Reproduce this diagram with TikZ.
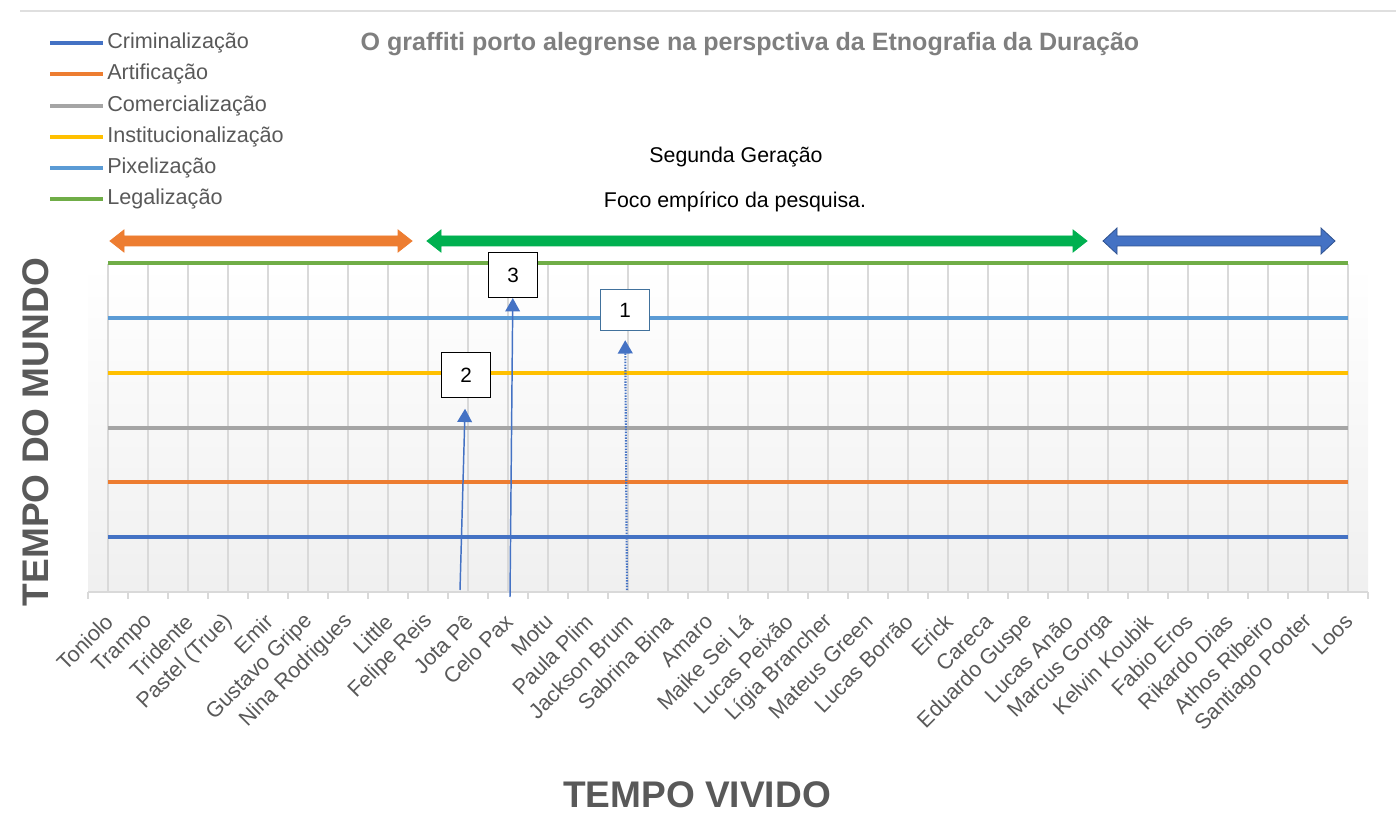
\documentclass[tikz,border=0pt]{standalone}
\usepackage{fontspec}
\setmainfont{Liberation Sans}
\usetikzlibrary{arrows.meta}

\definecolor{crim}{HTML}{4472C4}
\definecolor{arti}{HTML}{ED7D31}
\definecolor{come}{HTML}{A5A5A5}
\definecolor{inst}{HTML}{FFC000}
\definecolor{pixe}{HTML}{5B9BD5}
\definecolor{lega}{HTML}{70AD47}
\definecolor{foco}{HTML}{00B050}
\definecolor{darkblue}{HTML}{2F528F}
\definecolor{txtgray}{HTML}{595959}
\definecolor{titgray}{HTML}{7F7F7F}
\definecolor{gridgray}{HTML}{D9D9D9}
\definecolor{boxline}{HTML}{41719C}

% fill, outline, x1, x2, y, head half height
\newcommand{\spanarrow}[6]{%
  \filldraw[fill=#1, draw=#2, line width=0.6pt] (#3,#5) -- (#3+14,#5-#6) -- (#3+14,#5-5)
    -- (#4-14,#5-5) -- (#4-14,#5-#6) -- (#4,#5) -- (#4-14,#5+#6) -- (#4-14,#5+5)
    -- (#3+14,#5+5) -- (#3+14,#5+#6) -- cycle;}

\begin{document}
\begin{tikzpicture}[x=0.75pt, y=-0.75pt,
  serie/.style={line width=3pt},
  legtext/.style={anchor=west, text=txtgray, font=\fontsize{16.2}{19}\selectfont, inner sep=0pt},
  catlabel/.style={anchor=east, rotate=45, text=txtgray, font=\fontsize{16.2}{19}\selectfont, inner sep=1pt},
  numbox/.style={draw, line width=1.1pt, minimum width=36.5pt, minimum height=33.5pt, fill=white, font=\fontsize{15.5}{18}\selectfont},
  pointer/.style={draw=crim, line width=1.1pt, -{Triangle[width=11pt, length=10pt]}},
  axistitle/.style={text=txtgray, font=\fontsize{27.8}{31}\bfseries\selectfont}]

  \useasboundingbox (0,0) rectangle (1396,830);
  \draw[gray!25, line width=0.8pt] (20,11) -- (1396,11);

  % plot area
  \shade[top color=white, bottom color=gray!12] (88,264) rectangle (1368,592);
  \foreach \i in {0,...,31}
    \draw[gridgray, line width=0.8pt] (108+40*\i,264) -- (108+40*\i,592);
  \foreach \i in {0,...,32}
    \draw[gridgray, line width=0.8pt] (88+40*\i,592) -- (88+40*\i,599);
  \draw[gridgray, line width=0.8pt] (88,592) -- (1368,592);

  \foreach \c [count=\k] in {crim,arti,come,inst,pixe,lega}
    \draw[serie, \c] (108,592-54.8*\k) -- (1348,592-54.8*\k);

  % legend
  \foreach \c/\t [count=\k] in {crim/Criminalização, arti/Artificação, come/Comercialização,
      inst/Institucionalização, pixe/Pixelização, lega/Legalização}
  {
    \draw[serie, \c] (50,12+31.2*\k) -- (103,12+31.2*\k);
    \node[legtext] (leg\k) at (107,12+31.2*\k) {\t};
  }

  \node[text=titgray, font=\fontsize{18.8}{22}\bfseries\selectfont] (title) at (750,44)
    {O graffiti porto alegrense na perspctiva da Etnografia da Duração};
  \node[font=\fontsize{16}{19}\selectfont] (geracao) at (736,157) {Segunda Geração};
  \node[font=\fontsize{16}{19}\selectfont] (foco) at (735,202) {Foco empírico da pesquisa.};

  \spanarrow{arti}{arti}{110}{412}{241}{11}
  \spanarrow{foco}{foco}{427}{1087}{241}{11}
  \spanarrow{crim}{darkblue}{1103}{1335}{241}{13}

  % names
  \foreach \n [count=\k from 0] in {Toniolo, Trampo, Tridente, Pastel (True), Emir,
      Gustavo Gripe, Nina Rodrigues, Little, Felipe Reis, Jota Pê, Celo Pax, Motu,
      Paula Plim, Jackson Brum, Sabrina Bina, Amaro, Maike Sei Lá, Lucas Peixão,
      Lígia Brancher, Mateus Green, Lucas Borrão, Erick, Careca, Eduardo Guspe,
      Lucas Anão, Marcus Gorga, Kelvin Koubik, Fabio Eros, Rikardo Dias,
      Athos Ribeiro, Santiago Pooter, Loos}
    \node[catlabel] (cat\k) at (110+40*\k,617) {\n};

  \node[numbox] (box3) at (513,275) {3};
  \node[numbox] (box2) at (466,375) {2};
  \node[numbox, draw=boxline, line width=0.8pt, minimum height=30.5pt] (box1) at (625,310) {1};

  \coordinate (foot2) at (460,590);
  \coordinate (foot3) at (510,597);
  \coordinate (foot1) at (627,590);
  \draw[pointer, shorten >=8pt] (foot2) -- (box2);
  \draw[pointer] (foot3) -- (box3);
  \draw[pointer, densely dotted, line width=1.6pt, shorten >=7pt] (foot1) -- (box1);

  \node[axistitle, rotate=90] (ytitle) at (36,432) {TEMPO DO MUNDO};
  \node[axistitle] (xtitle) at (697,795) {TEMPO VIVIDO};

\end{tikzpicture}
\end{document}
